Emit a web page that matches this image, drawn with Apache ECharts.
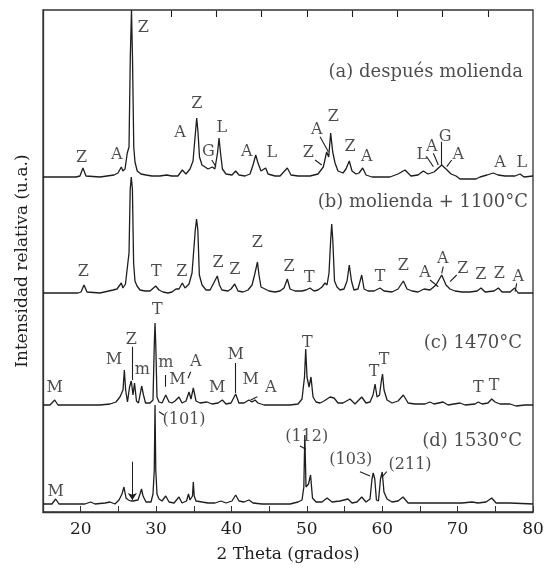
<!DOCTYPE html>
<html>
<head>
<meta charset="utf-8">
<script src="https://cdn.jsdelivr.net/npm/echarts@6/dist/echarts.min.js"></script>
<style>
html,body{margin:0;padding:0;background:#fff;}
#chart{width:553px;height:577px;}
</style>
</head>
<body>
<div id="chart"></div>
<script>
// ---- data (2θ in degrees, relative intensity in arbitrary units above each pattern's baseline)
var xTicks = [20, 30, 40, 50, 60, 70, 80];
var topTicks = [32, 38, 44, 50, 56, 62, 68, 74];
var patternNames = ['(a) después molienda', '(b) molienda + 1100°C', '(c) 1470°C', '(d) 1530°C'];
var offsets = [335, 219, 107, 8];

var patternA = [
[15,0],[19.38,0],[19.9,1],[20.3,9],[20.7,1],[22.56,0],[24.42,2],[24.95,4],[25.39,10],[25.6,6],[25.88,8],
[26.18,24],[26.41,30],[26.58,120],[26.74,167],[26.87,120],[27.04,30],[27.2,15],[27.5,6],[28.0,3],[28.66,2],
[29.46,1],[30.5,1],[31.4,2],[32.07,1],[32.9,1],[33.48,7],[33.96,3],[34.5,8],[34.9,16],[35.23,45],[35.39,59],
[35.56,45],[35.76,20],[36.09,12],[36.5,10],[36.89,8],[37.46,10],[37.8,8],[38.15,24],[38.35,39],[38.55,24],
[38.8,8],[39.27,3],[40.07,2],[40.56,6],[41.0,2],[41.8,1],[42.46,3],[42.86,12],[43.22,22],[43.52,14],[43.92,6],
[44.54,9],[44.85,3],[45.78,1],[46.44,1],[47.41,9],[47.9,2],[48.83,1],[50.42,1],[51.48,3],[52.18,10],[52.63,25],
[52.9,20],[53.16,44],[53.43,25],[53.74,14],[54.13,6],[54.8,4],[55.19,8],[55.63,16],[55.99,6],[56.52,3],[56.92,4],
[57.41,9],[57.85,2],[58.64,0],[61.03,0],[62.09,3],[63.02,7],[63.81,1],[64.74,2],[65.45,6],[66.07,3],[66.87,5],
[67.89,12],[68.46,8],[69.13,3],[69.79,1],[70.32,-2],[72.44,-2],[72.97,0],[73.9,2],[74.73,4],[75.36,2],[76.28,1],
[77.61,1],[78.28,3],[78.81,0],[80,1]
];
var patternB = [
[15,0],[19.64,0],[20.04,1],[20.44,8],[20.84,1],[22.56,0],[24.29,3],[24.82,4],[25.39,10],[25.6,5],[25.94,9],
[26.18,25],[26.41,40],[26.57,104],[26.71,116],[26.86,104],[27.02,30],[27.2,12],[27.47,7],[27.87,3],[28.53,2],
[29.2,2],[29.95,7],[30.39,3],[30.92,1],[31.58,0],[32.11,1],[32.64,4],[33.04,4],[33.48,10],[33.84,5],[34.37,9],
[34.77,20],[35.2,63],[35.37,74],[35.54,63],[35.74,18],[36.1,8],[36.63,3],[37.16,3],[37.65,10],[37.89,8],
[38.12,17],[38.41,8],[38.74,3],[39.54,2],[39.94,4],[40.43,9],[40.87,2],[41.53,1],[42.2,3],[42.73,8],[43.06,18],
[43.32,20],[43.45,31],[43.65,18],[43.92,6],[44.45,4],[44.98,2],[45.78,1],[46.44,2],[46.97,5],[47.41,14],
[47.77,4],[48.43,2],[49.36,2],[49.89,3],[50.42,5],[50.95,2],[51.48,3],[52.01,6],[52.41,10],[52.68,8],[52.94,20],
[53.16,53],[53.3,69],[53.44,53],[53.67,12],[54.0,6],[54.4,3],[54.93,4],[55.33,12],[55.63,28],[55.92,12],
[56.25,3],[56.78,4],[57.28,18],[57.59,4],[58.12,2],[58.92,2],[59.71,5],[60.24,2],[61.3,1],[62.1,4],[62.8,12],
[63.29,4],[63.95,2],[64.75,1],[65.54,4],[66.34,3],[67.13,8],[67.89,18],[68.46,8],[68.99,4],[69.65,2],[70.58,1],
[71.65,1],[72.58,2],[73.11,5],[73.64,1],[74.83,2],[75.41,5],[75.9,1],[76.96,1],[77.56,5],[78.02,0],[80,0]
];
var patternC = [
[15,0],[15.93,0],[16.55,5],[16.99,0],[19.9,0],[22.56,0],[23.89,1],[24.68,3],[25.21,8],[25.61,15],[25.79,35],
[25.96,15],[26.21,3],[26.48,18],[26.71,24],[26.94,10],[27.14,22],[27.4,4],[27.67,2],[27.87,10],[28.09,19],
[28.33,10],[28.6,2],[29.2,2],[29.59,5],[29.76,60],[29.86,82],[29.96,60],[30.12,8],[30.39,3],[30.79,2],
[31.28,10],[31.72,3],[32.11,2],[32.51,4],[33.04,8],[33.44,2],[33.97,4],[34.37,13],[34.63,6],[34.94,17],
[35.3,4],[35.83,2],[36.76,3],[37.42,1],[38.22,2],[38.79,5],[39.28,1],[39.94,2],[40.56,11],[40.99,2],[41.66,2],
[42.32,5],[42.72,3],[43.12,5],[43.52,2],[44.32,0],[47.77,0],[48.83,1],[49.36,6],[49.69,28],[49.85,56],
[50.02,28],[50.29,18],[50.55,28],[50.82,8],[51.22,3],[51.75,2],[52.28,4],[53.08,8],[53.61,7],[54.14,2],
[54.8,2],[55.73,6],[56.39,1],[57.28,8],[57.85,2],[58.38,3],[58.78,10],[59.05,21],[59.31,8],[59.64,10],
[59.88,24],[60.04,31],[60.24,15],[60.64,5],[61.3,2],[62.1,4],[62.8,10],[63.43,2],[64.35,1],[65.68,1],
[66.34,3],[66.87,1],[68.07,3],[68.73,0],[70.32,2],[70.98,0],[72.31,1],[72.75,3],[73.24,1],[74.03,2],
[74.52,6],[74.96,3],[75.63,1],[76.95,1],[77.75,-1],[78.94,0],[80,0]
];
var patternD = [
[15,0],[16.19,0],[16.68,5],[17.12,0],[20.57,0],[21.32,2],[21.9,0],[23.23,1],[23.89,2],[24.55,0],[25.08,4],
[25.48,10],[25.74,17],[26.01,6],[26.34,4],[26.67,3],[26.94,3],[27.2,2],[27.6,4],[27.87,10],[28.07,15],
[28.27,8],[28.66,2],[29.33,2],[29.59,10],[29.76,34],[29.86,99],[29.96,34],[30.12,10],[30.39,5],[30.79,3],
[31.28,8],[31.72,2],[32.38,1],[33.04,7],[33.44,1],[34.04,3],[34.3,10],[34.5,4],[34.83,8],[34.94,22],
[35.06,8],[35.3,3],[36.09,2],[36.89,1],[37.82,1],[38.61,3],[39.28,1],[40.07,3],[40.56,9],[41.0,3],[41.66,2],
[42.32,4],[42.86,1],[44.05,0],[47.77,0],[48.83,2],[49.36,4],[49.6,17],[49.73,69],[49.89,17],[50.22,20],
[50.49,29],[50.75,6],[51.22,2],[52.01,2],[52.68,6],[53.34,2],[54.4,3],[55.46,5],[55.99,1],[56.65,2],
[57.28,7],[57.85,2],[58.38,5],[58.64,25],[58.81,31],[59.01,25],[59.23,4],[59.5,3],[59.77,25],[60.0,32],
[60.23,12],[60.64,5],[61.3,2],[62.1,3],[62.76,7],[63.43,1],[65.01,1],[67.0,1],[68.99,1],[70.58,1],[71.91,2],
[72.71,1],[73.77,2],[74.52,6],[75.1,1],[76.95,1],[80,0]
];

// peak labels: [text, 2θ, height on the common axis]
var peakLabels = [
['Z',28.31,484],['Z',20.13,354],['A',24.78,357],['A',33.17,379],['Z',35.39,408],['G',36.93,360],['L',38.71,384],
['A',42.02,360],['L',45.34,359],['A',51.31,382],['Z',53.51,395],['Z',50.20,359],['Z',55.73,365],['A',57.94,355],
['L',65.24,357],['A',66.57,365],['G',68.33,375],['A',70.09,357],['A',75.63,349],['L',78.50,349],
['Z',20.35,240],['T',30.03,240],['Z',33.40,240],['Z',38.21,249],['Z',40.43,242],['Z',43.43,269],['Z',47.63,245],
['T',50.33,234],['T',59.71,235],['Z',62.80,246],['A',65.68,239],['A',68.03,253],['Z',70.68,243],['Z',73.07,237],
['Z',75.53,238],['A',78.05,235],
['T',30.16,202],['Z',26.71,172],['M',24.42,152],['m',28.17,142],['m',31.28,149],['M',32.82,132],['A',35.26,150],
['M',38.12,124],['M',40.56,157],['M',42.55,132],['A',45.21,124],['M',16.55,124],['T',50.06,169],['T',58.91,140],
['T',60.24,152],['T',72.75,124],['T',74.83,126],['(101)',33.71,92],
['M',16.68,20],['(112)',49.98,75],['(103)',55.83,52],['(211)',63.69,47]
];
// panel titles: right edge position
var titlePos = [[78.68,440],[79.34,310],[78.55,169],[78.55,71]];

// connector strokes from labels to peaks
var connectors = [
[[37.38,352],[37.95,345.3]],[[51.75,375.3],[52.85,360.3]],[[51.09,352],[51.98,347]],[[65.9,355.3],[66.78,345.3]],
[[66.78,358.7],[67.44,347]],[[67.89,370.3],[67.89,347]],[[69.22,352],[68.56,345.3]],
[[66.34,232],[67.44,225.3]],[[68.1,245.3],[67.89,238.7]],[[69.88,237],[69.0,230.3]],[[77.84,228.7],[77.62,220.3]],
[[26.85,165.3],[26.85,132]],[[31.28,137],[31.28,125.3]],[[34.59,140.3],[34.24,133.7]],[[40.56,149],[40.56,119]],
[[43.43,115.3],[42.55,112]],[[30.39,100.3],[31.05,97]],
[[49.09,66],[49.89,62.7]],[[57.05,40.3],[58.38,36]],[[60.6,40.3],[59.93,34.7]]
];
var arrowD = [[26.85,50.3],[26.85,12]];

var FONT = 'DejaVu Serif';
var INK = '#1e1e1e';
var Y_MAX = 502;

var strokes = connectors.concat(topTicks.map(function (v) { return [[v, Y_MAX - 0.5], [v, Y_MAX - 7]]; }));

var series = [];
[patternA, patternB, patternC, patternD].forEach(function (p, i) {
  series.push({
    type: 'line', name: patternNames[i], showSymbol: false, silent: true,
    data: p.map(function (d) { return [d[0], d[1] + offsets[i]]; }),
    lineStyle: { color: INK, width: 1.3 }, animation: false, z: 3
  });
});
series.push({
  type: 'scatter', silent: true, animation: false, symbolSize: 0,
  itemStyle: { color: 'rgba(0,0,0,0)' },
  data: peakLabels.map(function (l) { return { name: l[0], value: [l[1], l[2]] }; }),
  label: { show: true, position: 'inside', formatter: '{b}', color: INK, fontFamily: FONT, fontSize: 16 }, z: 5
});
series.push({
  type: 'scatter', silent: true, animation: false, symbolSize: 0,
  itemStyle: { color: 'rgba(0,0,0,0)' },
  data: patternNames.map(function (n, i) { return { name: n, value: titlePos[i] }; }),
  label: { show: true, position: 'left', distance: 0, formatter: '{b}', color: INK, fontFamily: FONT, fontSize: 18 }, z: 5
});
series.push({
  type: 'lines', coordinateSystem: 'cartesian2d', silent: true, animation: false,
  data: strokes.map(function (c) { return { coords: c }; }),
  lineStyle: { color: INK, width: 1.1, opacity: 1 }, symbol: 'none', z: 4
});
series.push({
  type: 'lines', coordinateSystem: 'cartesian2d', silent: true, animation: false,
  data: [{ coords: arrowD }],
  lineStyle: { color: INK, width: 1, opacity: 1 }, symbol: ['none', 'arrow'], symbolSize: 7, z: 4
});

var chart = echarts.init(document.getElementById('chart'), null, { renderer: 'canvas' });
chart.setOption({
  animation: false,
  backgroundColor: '#fff',
  grid: { left: 43, right: 20, top: 10, bottom: 65, show: true, borderColor: '#333', borderWidth: 1.3, backgroundColor: 'transparent' },
  xAxis: {
    type: 'value', min: 15, max: 80, interval: 5, position: 'bottom',
    name: '2 Theta (grados)', nameLocation: 'middle', nameGap: 34,
    nameTextStyle: { fontFamily: FONT, fontSize: 17, color: INK },
    axisLine: { show: true, lineStyle: { color: '#333', width: 1.3 } },
    axisTick: { show: true, inside: true, length: 6, lineStyle: { color: '#333' } },
    axisLabel: {
      margin: 9, fontFamily: FONT, fontSize: 17, color: INK,
      formatter: function (v) { return xTicks.indexOf(v) >= 0 ? String(v) : ''; }
    },
    splitLine: { show: false }
  },
  yAxis: {
    type: 'value', min: 0, max: Y_MAX,
    name: 'Intensidad relativa (u.a.)', nameLocation: 'middle', nameGap: 12, nameRotate: 90,
    nameTextStyle: { fontFamily: FONT, fontSize: 17, color: INK },
    axisLine: { show: true, lineStyle: { color: '#333', width: 1.3 } },
    axisTick: { show: false }, axisLabel: { show: false }, splitLine: { show: false }
  },
  series: series
});
</script>
</body>
</html>
